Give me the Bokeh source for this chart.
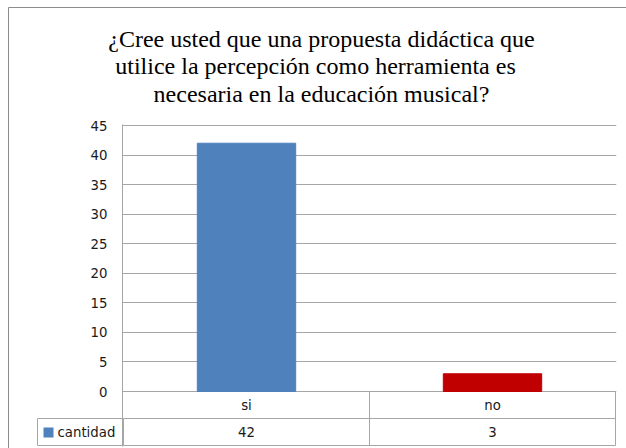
from bokeh.plotting import figure
from bokeh.models import FactorRange, Range1d, FixedTicker, ColumnDataSource
from bokeh.core.properties import value
from bokeh.embed import file_html
from bokeh.resources import INLINE

# ---- data ----
title_lines = [
    "¿Cree usted que una propuesta didáctica que",
    "utilice  la percepción como herramienta  es",
    "necesaria en la educación musical?",
]
categories = ["si", "no"]
cantidad = [42, 3]
series_name = "cantidad"
bar_colors = ["#4f81bd", "#c00000"]
y_ticks = [0, 5, 10, 15, 20, 25, 30, 35, 40, 45]

# ---- layout (canvas pixels) ----
W, H = 626, 448
frame_left, frame_top = 122, 124
frame_w, frame_h = 494, 322
zero_y = 391                 # canvas y of value 0
x0_px = 123                  # canvas x of category boundary 0
k = 266 / 45.0               # px per unit
row_h = 27                   # table row height px
cat_px = 246                 # px per category
grid_col = "#a6a6a6"
txt_col = "#1a1a1a"
tick_font = "DejaVu Sans"
fs = "13.3px"


def dx(px):
    return (px - x0_px) / cat_px


def dy(py):
    return (zero_y - py) / k


y_end = dy(frame_top)
y_start = dy(frame_top + frame_h)

p = figure(
    width=W, height=H,
    x_range=FactorRange(factors=categories, range_padding=1.0 / cat_px,
                        range_padding_units="absolute"),
    y_range=Range1d(y_start, y_end),
    output_backend="svg", toolbar_location=None,
    x_axis_location=None,
    min_border_left=frame_left, min_border_top=frame_top,
    min_border_right=W - frame_left - frame_w,
    min_border_bottom=H - frame_top - frame_h,
)
p.outline_line_color = None
p.background_fill_color = "white"
p.border_fill_color = "white"

# y axis
ticker = FixedTicker(ticks=y_ticks)
yax = p.yaxis[0]
yax.ticker = ticker
yax.major_tick_out = 0
yax.major_tick_in = 0
yax.minor_tick_line_color = None
yax.axis_line_color = grid_col
yax.major_label_standoff = 15
yax.major_label_text_font = tick_font
yax.major_label_text_font_size = fs
yax.major_label_text_color = txt_col

p.xgrid.visible = False
p.ygrid.ticker = ticker
p.ygrid.grid_line_color = grid_col

# bars
src = ColumnDataSource(dict(cat=categories, val=cantidad, color=bar_colors,
                            lbl=[str(v) for v in cantidad]))
p.vbar(x="cat", top="val", bottom=0, width=0.4, source=src,
       fill_color="color", line_color="color")

# table (inside frame, below value 0)
r1 = dy(zero_y + row_h)
r2 = dy(zero_y + 2 * row_h)
n = len(categories)
p.segment(x0=[0, 0], y0=[r1, r2], x1=[n, n], y1=[r1, r2],
          line_color=grid_col, line_width=1)
p.segment(x0=list(range(1, n + 1)), y0=[0] * n, x1=list(range(1, n + 1)), y1=[r2] * n,
          line_color=grid_col, line_width=1)
p.text(x="cat", y=r1 / 2, text="cat", source=src, text_align="center",
       text_baseline="middle", text_font=value(tick_font), text_font_size=fs,
       text_color=txt_col)
p.text(x="cat", y=(r1 + r2) / 2, text="lbl", source=src, text_align="center",
       text_baseline="middle", text_font=value(tick_font), text_font_size=fs,
       text_color=txt_col)

# legend cell, left of table (drawn unclipped, overlay level)
p.quad(left=dx(37), right=dx(x0_px), top=r1, bottom=r2,
       fill_color=None, line_color=grid_col, line_width=1, level="overlay")
p.quad(left=dx(43), right=dx(53), top=dy(427), bottom=dy(437),
       fill_color=bar_colors[0], line_color=None, level="overlay")
p.text(x=[dx(57)], y=[(r1 + r2) / 2], text=[series_name], text_align="left",
       text_baseline="middle", text_font=value(tick_font), text_font_size=fs,
       text_color=txt_col, level="overlay")

# outer chart border (left and top visible)
p.segment(x0=[dx(8), dx(8)], y0=[dy(7), dy(7)], x1=[dx(8), dx(W + 5)], y1=[dy(H + 5), dy(7)],
          line_color="#8c8c8c", line_width=1, level="overlay")

# title
p.text(x=[dx(321)] * len(title_lines), y=[dy(38 + 27.5 * i) for i in range(len(title_lines))],
       text=title_lines, text_align="center", text_baseline="alphabetic",
       text_font=value("Liberation Serif"), text_font_size="24px", text_color="#000000",
       level="overlay")

open("out.html", "w").write(file_html(p, INLINE))
